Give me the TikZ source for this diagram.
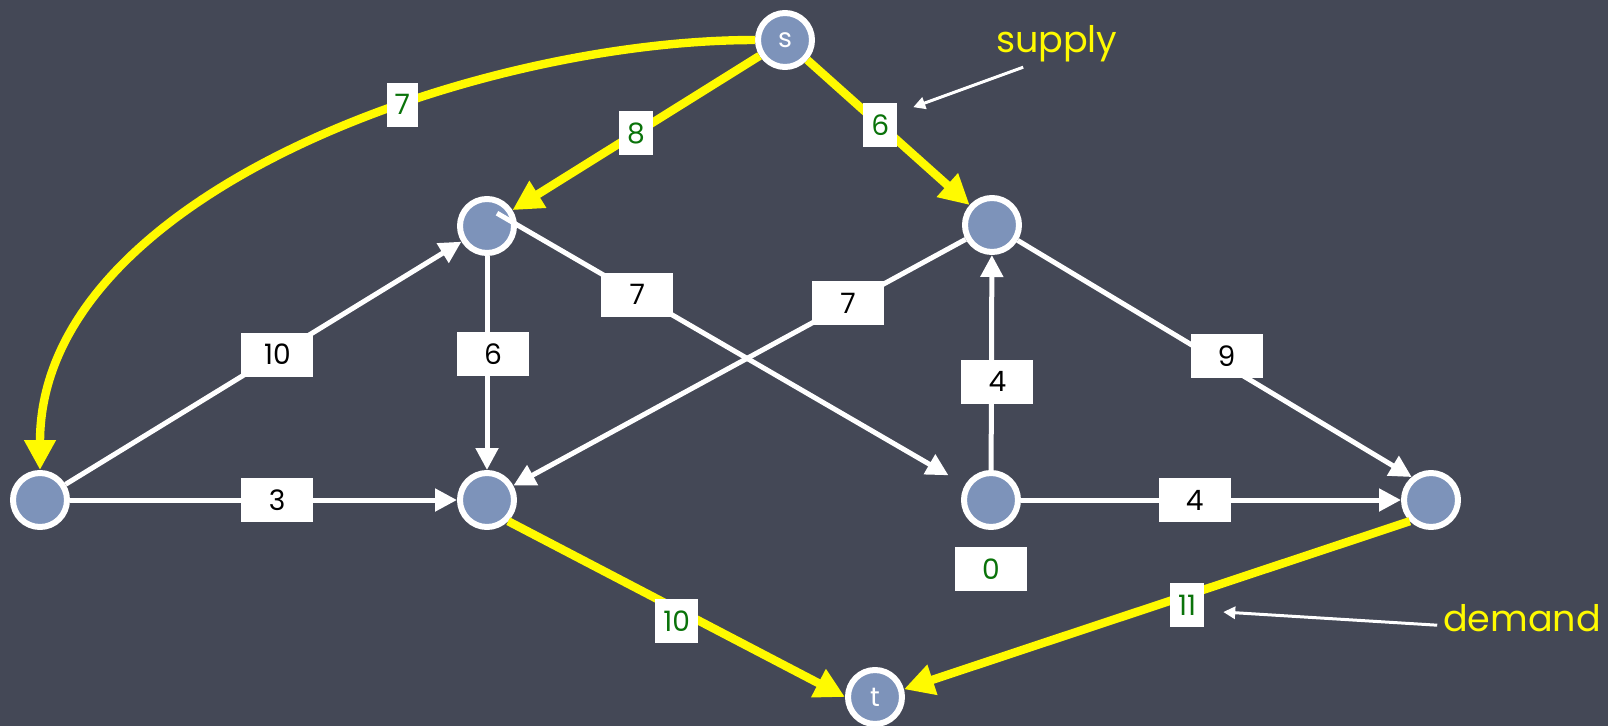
\documentclass[tikz,border=0pt]{standalone}
\usepackage{fontspec}
\setmainfont{Poppins}
\usetikzlibrary{arrows.meta,positioning}
\definecolor{board}{RGB}{68,72,86}
\definecolor{vfill}{RGB}{125,147,186}
\definecolor{chalkyellow}{RGB}{255,250,0}
\definecolor{flowgreen}{RGB}{10,115,10}
\tikzset{
  vtx/.style={circle, draw=white, fill=vfill, line width=0.15cm, minimum size=1.35cm,
    inner sep=0pt, text=white, font=\fontsize{19}{22}\selectfont},
  wedge/.style={draw=white, line width=0.125cm, -{Triangle[length=0.55cm,width=0.55cm]}},
  yedge/.style={draw=chalkyellow, line width=0.21cm, -{Triangle[length=0.75cm,width=0.75cm]}},
  cost/.style={fill=white, text=black, minimum width=1.8cm, minimum height=1.1cm,
    inner sep=0pt, font=\fontsize{20}{24}\selectfont},
  flow/.style={fill=white, text=flowgreen, minimum height=1.1cm, inner xsep=0.2cm,
    inner ysep=0pt, font=\fontsize{20}{24}\selectfont},
  note/.style={text=chalkyellow, inner sep=0pt, font=\fontsize{26}{30}\selectfont},
  pointer/.style={draw=white, line width=0.075cm, -{Triangle[length=0.3cm,width=0.3cm]}}
}
\begin{document}
\begin{tikzpicture}[line join=round]
  \fill[board] (0,0) rectangle (40.2,-18.15);
  \useasboundingbox (0,0) rectangle (40.2,-18.15);
  % vertices
  \node[vtx] (s) at (19.625,-1) {s};
  \node[vtx] (a) at (12.175,-5.65) {};
  \node[vtx] (b) at (24.8,-5.625) {};
  \node[vtx] (l) at (1,-12.5) {};
  \node[vtx] (c) at (12.175,-12.5) {};
  \node[vtx] (d) at (24.775,-12.5) {};
  \node[vtx] (r) at (35.775,-12.5) {};
  \node[vtx] (t) at (21.875,-17.425) {t};
  % capacities
  \draw[wedge] (l) -- node[cost,pos=.535]{10} (a);
  \draw[wedge] (l) -- node[cost,pos=.535]{3} (c);
  \draw[wedge] (a) -- node[cost,pos=.46,xshift=.15cm]{6} (c);
  \draw[wedge,shorten >=.48cm] ([shift={(.25,.32)}]a.center) -- node[cost,pos=.3]{7} (d);
  \draw[wedge] (b) -- node[cost,pos=.26]{7} (c);
  \draw[wedge] (d) -- node[cost,pos=.41,xshift=.15cm]{4} (b);
  \draw[wedge] (b) -- node[cost,pos=.53,yshift=.25cm]{9} (r.130);
  \draw[wedge] (d) -- node[cost,pos=.457]{4} (r);
  % supplies and demands
  \draw[yedge] (s.west) to[out=180,in=90,looseness=.85] node[flow,pos=.38]{7} (l.north);
  \draw[yedge] (s) -- node[flow]{8} (a);
  \draw[yedge] (s) -- node[flow,pos=.45]{6} (b);
  \draw[yedge] (c.-45) -- node[flow,pos=.5,yshift=-.3cm]{10} (t.west);
  \draw[yedge] (r.-135) -- node[flow,pos=.44,yshift=-.25cm]{11} (t.15);
  \node[cost,text=flowgreen,below=.42cm of d] (zero) {0};
  % notes
  \node[note] (supply) at (26.42,-1.1) {supply};
  \node[note] (demand) at (38.05,-15.45) {demand};
  \coordinate (supply tail) at (25.58,-1.68);
  \coordinate (supply tip) at (22.83,-2.68);
  \coordinate (demand tail) at (35.93,-15.63);
  \coordinate (demand tip) at (30.58,-15.3);
  \draw[pointer] (supply tail) -- (supply tip);
  \draw[pointer] (demand tail) -- (demand tip);
\end{tikzpicture}
\end{document}
